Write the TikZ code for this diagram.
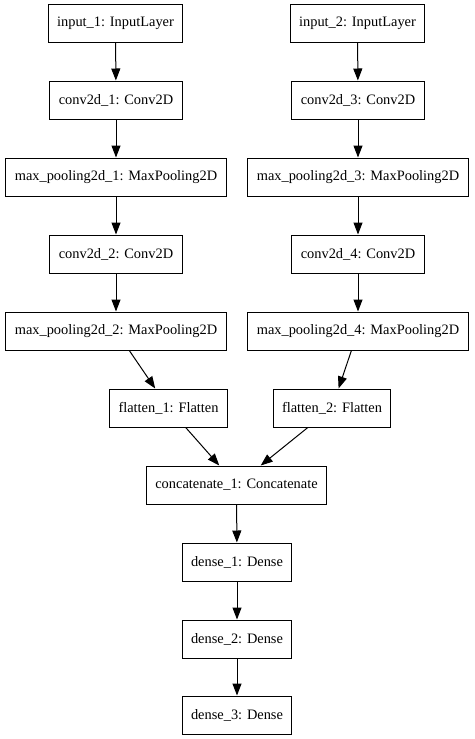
\documentclass[tikz,border=0pt]{standalone}
\usepackage{fontspec}
\setmainfont{Liberation Serif}
\usetikzlibrary{arrows.meta}
\begin{document}
\begin{tikzpicture}[x=1pt,y=-1pt,
  layer/.style={draw=black,line width=1pt,fill=white,minimum height=38pt,inner xsep=9pt,inner ysep=0pt,font=\fontsize{14.4}{17}\selectfont},
  edge/.style={line width=1pt,-{Triangle[length=12pt,width=9pt]}}]
\useasboundingbox (0,0) rectangle (474,739);
\node[layer] (in1) at (115.5,23) {input\_1: InputLayer};
\node[layer] (c1) at (116,100) {conv2d\_1: Conv2D};
\node[layer] (mp1) at (116,177) {max\_pooling2d\_1: MaxPooling2D};
\node[layer] (c2) at (116,254) {conv2d\_2: Conv2D};
\node[layer] (mp2) at (116,331) {max\_pooling2d\_2: MaxPooling2D};
\node[layer] (f1) at (168.5,408) {flatten\_1: Flatten};
\node[layer] (in2) at (357.5,23) {input\_2: InputLayer};
\node[layer] (c3) at (358,100) {conv2d\_3: Conv2D};
\node[layer] (mp3) at (358,177) {max\_pooling2d\_3: MaxPooling2D};
\node[layer] (c4) at (358,254) {conv2d\_4: Conv2D};
\node[layer] (mp4) at (358,331) {max\_pooling2d\_4: MaxPooling2D};
\node[layer] (f2) at (332,408) {flatten\_2: Flatten};
\node[layer] (cat) at (236.5,485) {concatenate\_1: Concatenate};
\node[layer] (d1) at (237,562) {dense\_1: Dense};
\node[layer] (d2) at (237,639) {dense\_2: Dense};
\node[layer] (d3) at (237,715) {dense\_3: Dense};
\draw[edge] (in1) -- (c1);
\draw[edge] (c1) -- (mp1);
\draw[edge] (mp1) -- (c2);
\draw[edge] (c2) -- (mp2);
\draw[edge] (mp2) -- (f1);
\draw[edge] (in2) -- (c3);
\draw[edge] (c3) -- (mp3);
\draw[edge] (mp3) -- (c4);
\draw[edge] (c4) -- (mp4);
\draw[edge] (mp4) -- (f2);
\draw[edge] (f1) -- (cat);
\draw[edge] (f2) -- (cat);
\draw[edge] (cat) -- (d1);
\draw[edge] (d1) -- (d2);
\draw[edge] (d2) -- (d3);
\end{tikzpicture}
\end{document}
